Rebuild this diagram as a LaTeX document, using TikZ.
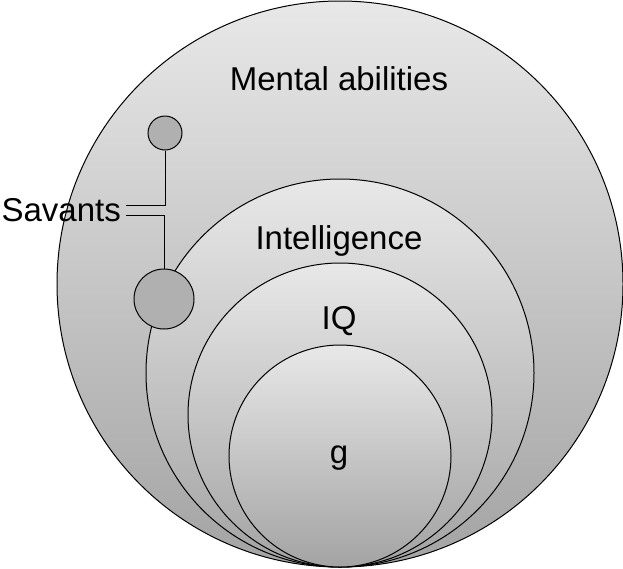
\documentclass[tikz,border=0pt]{standalone}
\usepackage{fontspec}
\setmainfont{Liberation Sans}
\begin{document}
\begin{tikzpicture}[x=1pt,y=-1pt,
  ring/.style={draw=black,line width=1pt,top color=gray!18,bottom color=gray!72},
  dot/.style={draw=black,line width=1pt,fill=gray!62},
  lab/.style={font=\fontsize{33}{38}\selectfont}]
\useasboundingbox (0,0) rectangle (623,568);
\path[ring] (340,284) circle (283);
\path[ring] (340,373) circle (194);
\path[ring] (340,415) circle (152);
\path[ring] (340,456) circle (111);
\node[circle,dot,minimum size=34pt,inner sep=0pt] (s1) at (165,133) {};
\node[circle,dot,minimum size=60pt,inner sep=0pt] (s2) at (164,299) {};
\node[lab] (ma) at (339,79) {Mental abilities};
\node[lab] (int) at (339,241) {Intelligence};
\node[lab] (iq) at (339,321) {IQ};
\node[lab] (g) at (339,458) {g};
\node[lab,anchor=east,inner sep=0pt] (sav) at (121,210) {Savants};
\coordinate (a) at (126,205);
\coordinate (b) at (126,215);
\draw[line width=1pt] (s1.south) |- (a);
\draw[line width=1pt] (s2.north) |- (b);
\end{tikzpicture}
\end{document}
